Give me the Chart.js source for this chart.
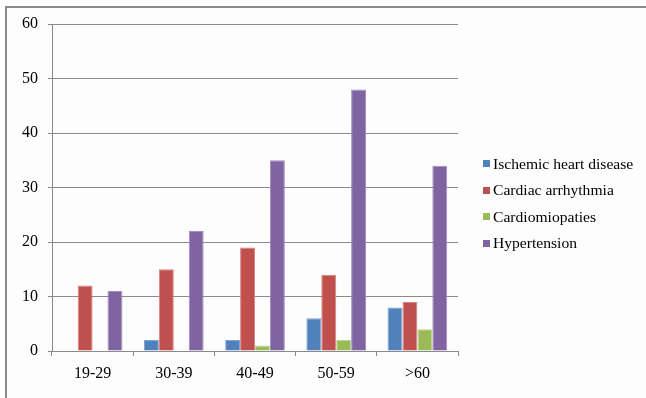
<!DOCTYPE html>
<html>
<head>
<meta charset="utf-8">
<script src="https://cdn.jsdelivr.net/npm/chart.js@4/dist/chart.umd.min.js"></script>
<style>
  html, body { margin: 0; padding: 0; background: #ffffff; }
  #wrap { position: relative; width: 646px; height: 398px; }
</style>
</head>
<body>
<div id="wrap"><canvas id="c" width="646" height="398"></canvas></div>
<script>
// Age groups and number of patients per diagnosis
const ageGroups = ['19-29', '30-39', '40-49', '50-59', '>60'];
const ischemicHeartDisease = [0, 2, 2, 6, 8];
const cardiacArrhythmia = [12, 15, 19, 14, 9];
const cardiomiopaties = [0, 0, 1, 2, 4];
const hypertension = [11, 22, 35, 48, 34];
const yTicks = [0, 10, 20, 30, 40, 50, 60];

const seriesNames = ['Ischemic heart disease', 'Cardiac arrhythmia', 'Cardiomiopaties', 'Hypertension'];
const seriesColors = ['#4F81BD', '#C0504D', '#9BBB59', '#8064A2'];
const seriesBorders = ['#7FA3D3', '#D88583', '#BAD38C', '#A28DBE'];
const seriesValues = [ischemicHeartDisease, cardiacArrhythmia, cardiomiopaties, hypertension];

const FONT = '"Liberation Serif", "Times New Roman", serif';

// Frame around the chart object, open at right and bottom
const framePlugin = {
  id: 'frame',
  beforeDraw(chart) {
    const ctx = chart.ctx;
    ctx.save();
    ctx.fillStyle = '#fdfdfd';
    ctx.fillRect(7, 8, chart.width - 7, chart.height - 8);
    ctx.fillStyle = '#8a8a8a';
    ctx.fillRect(5, 6, 2, chart.height - 6);
    ctx.fillRect(5, 6, chart.width - 5, 2);
    ctx.restore();
  }
};

// Legend on the right with small square markers
const sideLegend = {
  id: 'sideLegend',
  afterDraw(chart) {
    const ctx = chart.ctx;
    ctx.save();
    ctx.font = '15.6px ' + FONT;
    ctx.textBaseline = 'middle';
    ctx.textAlign = 'left';
    chart.data.datasets.forEach((ds, i) => {
      const y = 163.5 + i * 26.5;
      ctx.fillStyle = ds.backgroundColor;
      ctx.fillRect(483, Math.round(y - 3.5), 7, 7);
      ctx.fillStyle = '#000000';
      ctx.fillText(ds.label, 493, y + 1);
    });
    ctx.restore();
  }
};

new Chart(document.getElementById('c'), {
  type: 'bar',
  data: {
    labels: ageGroups,
    datasets: seriesNames.map((name, i) => ({
      label: name,
      data: seriesValues[i],
      backgroundColor: seriesColors[i],
      borderColor: seriesBorders[i],
      borderWidth: 1,
      barPercentage: 1.0,
      categoryPercentage: 0.735
    }))
  },
  options: {
    responsive: false,
    animation: false,
    devicePixelRatio: 1,
    layout: { padding: { left: 0, right: 188, top: 24, bottom: 0 } },
    plugins: { legend: { display: false }, tooltip: { enabled: false } },
    scales: {
      x: {
        offset: true,
        grid: {
          offset: true,
          drawOnChartArea: false,
          drawTicks: true,
          tickLength: 5,
          color: '#8a8a8a',
          lineWidth: 1
        },
        border: { display: true, color: '#8a8a8a', width: 1 },
        ticks: {
          color: '#000000',
          font: { family: FONT, size: 16 },
          padding: 8,
          maxRotation: 0
        },
        afterFit(scale) { scale.height = 47; }
      },
      y: {
        min: 0,
        max: 60,
        afterBuildTicks(scale) { scale.ticks = yTicks.map(v => ({ value: v })); },
        grid: {
          color: '#8a8a8a',
          lineWidth: 1,
          drawTicks: true,
          tickLength: 4
        },
        border: { display: true, color: '#8a8a8a', width: 1 },
        ticks: {
          color: '#000000',
          font: { family: FONT, size: 16 },
          padding: 10
        },
        afterFit(scale) { scale.width = 52; }
      }
    }
  },
  plugins: [framePlugin, sideLegend]
});
</script>
</body>
</html>
